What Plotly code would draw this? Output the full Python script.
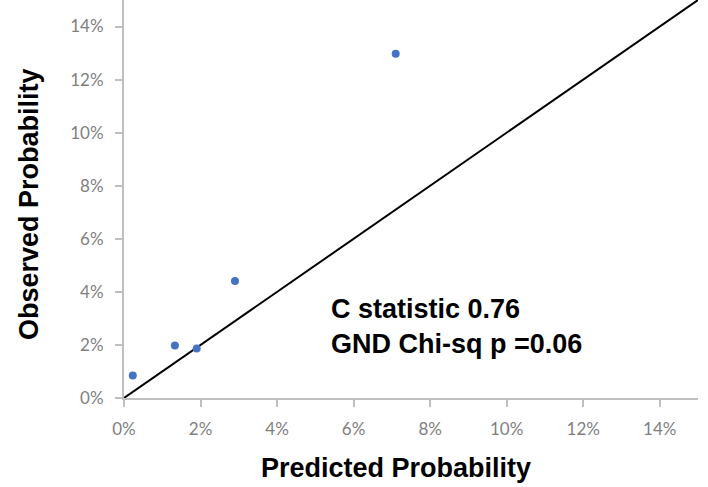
import plotly.graph_objects as go

predicted = [0.0023, 0.0133, 0.0190, 0.0290, 0.0710]
observed = [0.0085, 0.0198, 0.0187, 0.0441, 0.1297]
ref_line = [0.0, 0.15]
tick_vals = [0, 0.02, 0.04, 0.06, 0.08, 0.10, 0.12, 0.14]
tick_text = ["0%", "2%", "4%", "6%", "8%", "10%", "12%", "14%"]
x_title = "Predicted Probability"
y_title = "Observed Probability"
stats_text = "C statistic 0.76<br>GND Chi-sq p =0.06"

fig = go.Figure()
fig.add_trace(go.Scatter(x=ref_line, y=ref_line, mode="lines",
                         line=dict(color="black", width=2), showlegend=False,
                         hoverinfo="skip"))
fig.add_trace(go.Scatter(x=predicted, y=observed, mode="markers",
                         marker=dict(color="#4472C4", size=8), showlegend=False))

axis_common = dict(
    range=[0, 0.15], tickvals=tick_vals, ticktext=tick_text, automargin=False,
    showgrid=False, zeroline=False, showline=True, linecolor="#BFBFBF",
    linewidth=2, ticks="outside", ticklen=7, tickcolor="#BFBFBF", tickwidth=2,
    tickfont=dict(family="Lato, Arial, sans-serif", size=17, color="#7F7F7F"),
    ticklabelstandoff=8,
)

title_font = dict(family="Liberation Sans, Arial, sans-serif", size=27, color="black")

fig.update_layout(
    width=708, height=487,
    margin=dict(l=124, r=10, t=0, b=89),
    plot_bgcolor="white", paper_bgcolor="white",
    xaxis=dict(**axis_common),
    yaxis=dict(**axis_common),
    annotations=[
        dict(x=0.0535, y=0.0271, xref="x", yref="y", xanchor="left", yanchor="middle",
             text="<b>" + stats_text + "</b>", showarrow=False, align="left",
             font=title_font),
        dict(x=0.474, y=0, xref="paper", yref="paper", xanchor="center", yanchor="middle",
             yshift=-70, text="<b>" + x_title + "</b>", showarrow=False, font=title_font),
        dict(x=0, y=0.5, xref="paper", yref="paper", xanchor="center", yanchor="middle",
             xshift=-95, yshift=-5, textangle=-90, text="<b>" + y_title + "</b>",
             showarrow=False, font=title_font),
    ],
)

fig.write_html("out.html", config={"displayModeBar": False},
               post_script="document.body.style.margin='0px';document.body.style.overflow='hidden';")
